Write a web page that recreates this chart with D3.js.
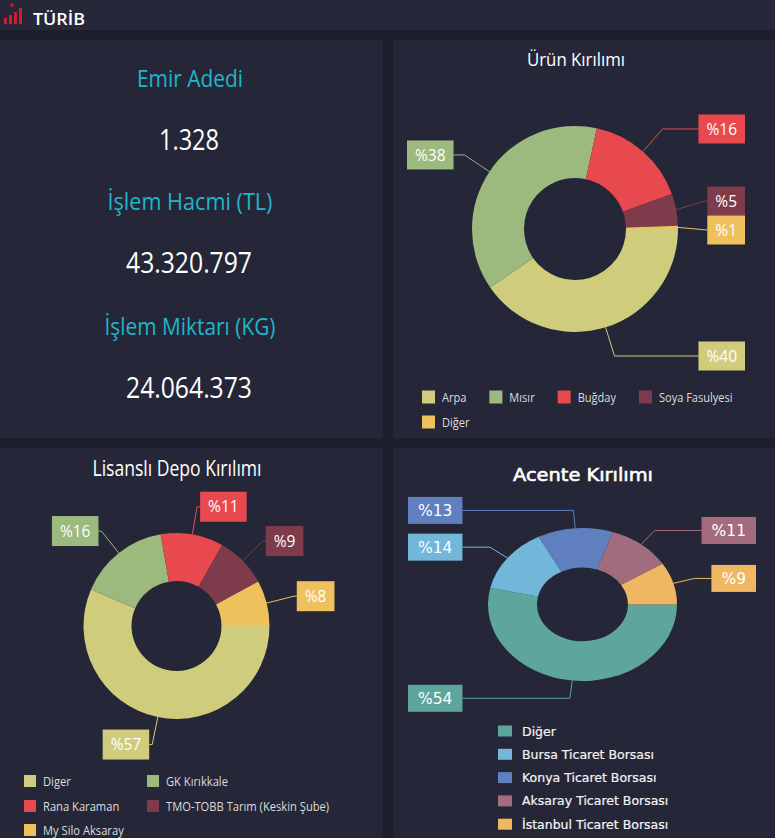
<!DOCTYPE html>
<html><head><meta charset="utf-8">
<script src="https://cdn.jsdelivr.net/npm/d3@7/dist/d3.min.js"></script>
<style>html,body{margin:0;padding:0;background:#1d1e2b;overflow:hidden}</style>
</head><body>
<svg id="c" width="775" height="838"></svg>
<script>
// ---------------- DATA ----------------
const brandName = "TÜRİB";
const kpiLabels = ["Emir Adedi", "İşlem Hacmi (TL)", "İşlem Miktarı (KG)"];
const kpiValues = ["1.328", "43.320.797", "24.064.373"];

const urunTitle = "Ürün Kırılımı";
const urunCategories = ["Arpa", "Mısır", "Buğday", "Soya Fasulyesi", "Diğer"];
const urunValues = [40.4, 38.0, 16.1, 5.0, 0.5];

const depoTitle = "Lisanslı Depo Kırılımı";
const depoCategories = ["Diger", "GK Kırıkkale", "Rana Karaman", "TMO-TOBB Tarım (Keskin Şube)", "My Silo Aksaray"];
const depoValues = [57, 16, 11, 9, 8];

const acenteTitle = "Acente Kırılımı";
const acenteCategories = ["Diğer", "Bursa Ticaret Borsası", "Konya Ticaret Borsası", "Aksaray Ticaret Borsası", "İstanbul Ticaret Borsası"];
const acenteValues = [54, 14, 13, 11, 9];

// ---------------- STYLE ----------------
const palA = ["#cfcc7c", "#9cb97e", "#e7494e", "#7d3b4b", "#efc15d"];
const palB = ["#5ea69c", "#72b6da", "#607fbf", "#a36c7e", "#f0b762"];
const SEG = "'Open Sans', 'Noto Sans', sans-serif";
const DJV = "'DejaVu Sans', Verdana, sans-serif";

const svg = d3.select("#c");
svg.append("rect").attr("width", 775).attr("height", 838).attr("fill", "#1d1e2b");
svg.append("rect").attr("width", 775).attr("height", 30).attr("fill", "#262839");
const panels = [[0, 40, 383, 398], [393, 40, 382, 398], [0, 448, 383, 390], [393, 448, 382, 390]];
svg.selectAll("rect.panel").data(panels).join("rect").attr("class", "panel")
  .attr("x", d => d[0]).attr("y", d => d[1]).attr("width", d => d[2]).attr("height", d => d[3])
  .attr("fill", "#252738");

function fitText(parent, x, y, str, o) {
  const t = parent.append("text").attr("x", x).attr("y", y).text(str)
    .attr("font-family", o.family || SEG).attr("font-size", o.size)
    .attr("font-weight", o.weight || "normal").attr("fill", o.fill || "#fff")
    .attr("text-anchor", o.anchor || "start");
  if (o.width) t.attr("textLength", o.width).attr("lengthAdjust", "spacingAndGlyphs");
  if (o.stroke) t.attr("stroke", o.fill || "#fff").attr("stroke-width", o.stroke);
  return t;
}
function scaledText(parent, x, y, str, o) {
  return parent.append("text").attr("transform", `translate(${x},${y}) scale(${o.sx || 1},1)`)
    .text(str).attr("font-family", o.family || SEG).attr("font-size", o.size)
    .attr("font-weight", o.weight || "normal").attr("fill", o.fill || "#fff")
    .attr("text-anchor", o.anchor || "start");
}

// ---------------- HEADER ----------------
const logo = svg.append("g");
const logoBars = [6, 9, 12, 16];
logo.selectAll("rect").data(logoBars).join("rect")
  .attr("x", (d, i) => 4 + i * 5).attr("y", d => 24 - d).attr("width", 3).attr("height", d => d)
  .attr("fill", "#c9202b");
logo.append("circle").attr("cx", 12).attr("cy", 5).attr("r", 1.8).attr("fill", "#c9202b");
fitText(svg, 33, 25, brandName, {size: 17, weight: 600, width: 52});

// ---------------- KPI PANEL ----------------
const kpiLabelY = [87, 210, 335], kpiLabelW = [106, 165, 171];
const kpiValueY = [150, 273, 398], kpiValueW = [60, 126, 126];
kpiLabels.forEach((s, i) => fitText(svg, 190, kpiLabelY[i], s, {size: 23, fill: "#21b5cc", anchor: "middle", width: kpiLabelW[i]}));
kpiValues.forEach((s, i) => fitText(svg, 189, kpiValueY[i], s, {size: 29, fill: "#ffffff", anchor: "middle", width: kpiValueW[i]}));

// ---------------- DONUT ----------------
function donut(o) {
  const g = svg.append("g");
  const pie = d3.pie().sort(null).value(d => d).startAngle(Math.PI / 2).endAngle(Math.PI / 2 + 2 * Math.PI);
  const arcs = pie(o.values);
  const arc = d3.arc().innerRadius(o.r0).outerRadius(o.r1);
  const ky = o.ky || 1;
  g.append("g").attr("transform", `translate(${o.cx},${o.cy}) scale(1,${ky})`)
    .selectAll("path").data(arcs).join("path").attr("d", arc).attr("fill", (d, i) => o.colors[i]);

  const R = o.r1 + o.len1;
  const labs = arcs.map((d, i) => {
    const a = (d.startAngle + d.endAngle) / 2;
    const sx = Math.sin(a), sy = -Math.cos(a);
    return {
      i, right: sx >= 0,
      p0: [o.cx + o.r1 * sx, o.cy + o.r1 * sy * ky],
      bx: o.cx + R * sx, y: o.cy + R * sy * ky, y0: o.cy + R * sy * ky,
      text: "%" + Math.round(d.value)
    };
  });
  [true, false].forEach(side => {
    const list = labs.filter(l => l.right === side).sort((a, b) => a.y - b.y);
    for (let it = 0; it < 200; it++) {
      let moved = false;
      for (let k = 1; k < list.length; k++) {
        const ov = o.boxH - (list[k].y - list[k - 1].y);
        if (ov > 0.01) { list[k - 1].y -= ov / 2; list[k].y += ov / 2; moved = true; }
      }
      if (!moved) break;
    }
  });
  const lg = svg.append("g");
  labs.forEach(l => {
    if (Math.abs(l.y - l.y0) > 0.01) {
      const dy = (l.y - o.cy) / ky;
      if (Math.abs(dy) < R) l.bx = o.cx + (l.right ? 1 : -1) * Math.sqrt(R * R - dy * dy);
    }
    const t = lg.append("text").text(l.text).attr("font-family", o.family).attr("font-size", o.fontSize)
      .attr("fill", "#fff").attr("text-anchor", "middle");
    const w = t.node().getComputedTextLength() + 2 * o.padX;
    let boxL;
    if (o.mode === "edge") {
      boxL = l.right ? o.rightEdge - w : o.leftEdge;
      if (l.right && l.bx > boxL) l.bx = boxL;
      if (!l.right && l.bx < boxL + w) l.bx = boxL + w;
    } else {
      boxL = l.right ? l.bx + o.len2 : l.bx - o.len2 - w;
    }
    const attachX = l.right ? boxL : boxL + w;
    lg.insert("path", "text").attr("d", d3.line()([l.p0, [l.bx, l.y], [attachX, l.y]]))
      .attr("fill", "none").attr("stroke", o.colors[l.i]).attr("stroke-width", 1);
    lg.insert("rect", "text").attr("x", boxL).attr("y", l.y - o.boxH / 2).attr("width", w).attr("height", o.boxH)
      .attr("fill", o.colors[l.i]);
    t.attr("x", boxL + w / 2).attr("y", l.y + o.fontSize * 0.36);
  });
}

// Ürün Kırılımı
fitText(svg, 576, 66, urunTitle, {size: 18, anchor: "middle", width: 98});
donut({cx: 575, cy: 229, r0: 51, r1: 103, values: urunValues, colors: palA, mode: "edge",
  len1: 30, leftEdge: 407, rightEdge: 745, boxH: 29, padX: 8, family: SEG, fontSize: 15.5});
{
  const lg = svg.append("g");
  let x = 422, y = 397;
  urunCategories.forEach((c, i) => {
    const t = scaledText(lg, 0, 0, c, {size: 13, sx: 0.85, fill: "#dcdcdc"});
    const tw = t.node().getComputedTextLength() * 0.85;
    if (x + 20 + tw > 765) { x = 422; y += 25; }
    lg.append("rect").attr("x", x).attr("y", y - 6.5).attr("width", 13).attr("height", 13).attr("fill", palA[i]);
    t.attr("transform", `translate(${x + 20},${y + 4.5}) scale(0.85,1)`);
    x += 20 + tw + 23;
  });
}

// Lisanslı Depo Kırılımı
fitText(svg, 177, 476, depoTitle, {size: 22, anchor: "middle", width: 169});
donut({cx: 176.5, cy: 626, r0: 45, r1: 93, values: depoValues, colors: palA, mode: "radial",
  len1: 28, len2: 3, boxH: 30, padX: 8, family: SEG, fontSize: 15.5});
{
  const lg = svg.append("g");
  const colX = [24, 147], rowY = [781, 806, 830];
  depoCategories.forEach((c, i) => {
    const x = colX[i % 2], y = rowY[Math.floor(i / 2)];
    lg.append("rect").attr("x", x).attr("y", y - 6).attr("width", 12).attr("height", 12).attr("fill", palA[i]);
    scaledText(lg, x + 19, y + 4.5, c, {size: 13, sx: 0.86, fill: "#dcdcdc"});
  });
}

// Acente Kırılımı
fitText(svg, 583, 481, acenteTitle, {size: 18.5, family: DJV, anchor: "middle", width: 140, stroke: 0.6});
donut({cx: 582.5, cy: 604.5, r0: 45.5, r1: 94.5, ky: 0.81, values: acenteValues, colors: palB, mode: "edge",
  len1: 22, leftEdge: 408, rightEdge: 756, boxH: 27, padX: 10, family: DJV, fontSize: 15.5});
{
  const lg = svg.append("g");
  acenteCategories.forEach((c, i) => {
    const y = 731 + i * 23.3;
    lg.append("rect").attr("x", 498).attr("y", y - 5.5).attr("width", 14).attr("height", 11).attr("fill", palB[i]);
    lg.append("text").attr("x", 522).attr("y", y + 4.5).text(c)
      .attr("font-family", DJV).attr("font-size", 12.5).attr("fill", "#f4f4f4")
      .attr("stroke", "#f4f4f4").attr("stroke-width", 0.2);
  });
}
</script>
</body></html>
